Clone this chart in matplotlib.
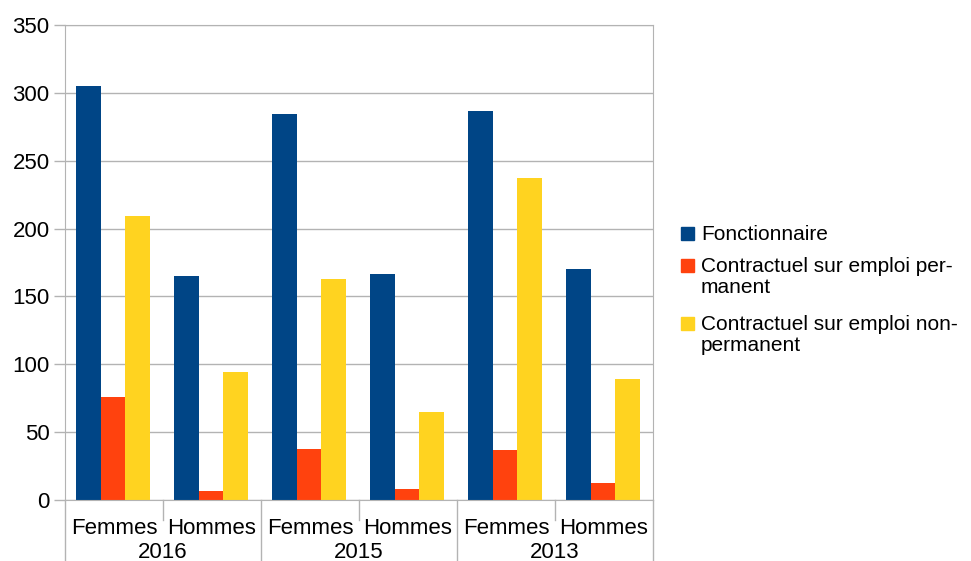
import numpy as np
import matplotlib.pyplot as plt
from matplotlib.patches import Rectangle
from matplotlib.transforms import blended_transform_factory

years = ["2016", "2015", "2013"]
sexes = ["Femmes", "Hommes"]
series = ["Fonctionnaire",
          "Contractuel sur emploi per-\nmanent",
          "Contractuel sur emploi non-\npermanent"]
fonctionnaire = [305, 165, 284.5, 166.5, 286.5, 170]
contractuel_perm = [76, 7, 37.5, 8, 37, 12.5]
contractuel_nonperm = [209, 94.5, 162.5, 65, 237, 89]
colors = ["#004586", "#ff420e", "#ffd320"]

plt.rcParams["font.family"] = ["Liberation Sans", "DejaVu Sans"]
plt.rcParams["font.size"] = 16

fig = plt.figure(figsize=(9.71, 5.61), dpi=100)
ax = fig.add_axes([65 / 971, 61 / 561, 588 / 971, 475 / 561])

x = np.arange(len(fonctionnaire))
w = 0.252
for i, (vals, c) in enumerate(zip([fonctionnaire, contractuel_perm, contractuel_nonperm], colors)):
    ax.bar(x + (i - 1) * w - 0.01, vals, width=w, color=c, zorder=2)

ax.set_xlim(-0.5, len(x) - 0.5)
ax.set_ylim(0, 350)
ax.set_yticks(np.arange(0, 351, 50))
ax.yaxis.grid(True, color="#b3b3b3", lw=1, zorder=0)
ax.tick_params(axis="y", length=8, width=1, color="#b3b3b3", pad=3, labelsize=16)
ax.set_xticks([])
for s in ax.spines.values():
    s.set_color("#b3b3b3")

# two-level category axis
tr = blended_transform_factory(ax.transData, ax.transAxes)
px = 1 / 475
for i in range(len(x)):
    ax.text(x[i], -28 * px, sexes[i % 2], transform=tr, ha="center", va="center")
for j, yr in enumerate(years):
    ax.text(2 * j + 0.5, -52 * px, yr, transform=tr, ha="center", va="center")
for k in range(len(x) + 1):
    bottom = -61 * px if k % 2 == 0 else -20 * px
    ax.plot([k - 0.5, k - 0.5], [0, bottom], transform=tr, color="#b3b3b3",
            lw=1, clip_on=False)

# legend
entries_y = [233, 265, 323]
for name, c, yy in zip(series, colors, entries_y):
    fig.add_artist(Rectangle((681 / 971, (561 - yy - 6.5) / 561), 13 / 971, 13 / 561,
                             transform=fig.transFigure, color=c))
    fig.text(701 / 971, (561 - yy + 8.5) / 561, name, ha="left", va="top",
             linespacing=1.15, fontsize=15)

fig.savefig("out.png", dpi=100)
